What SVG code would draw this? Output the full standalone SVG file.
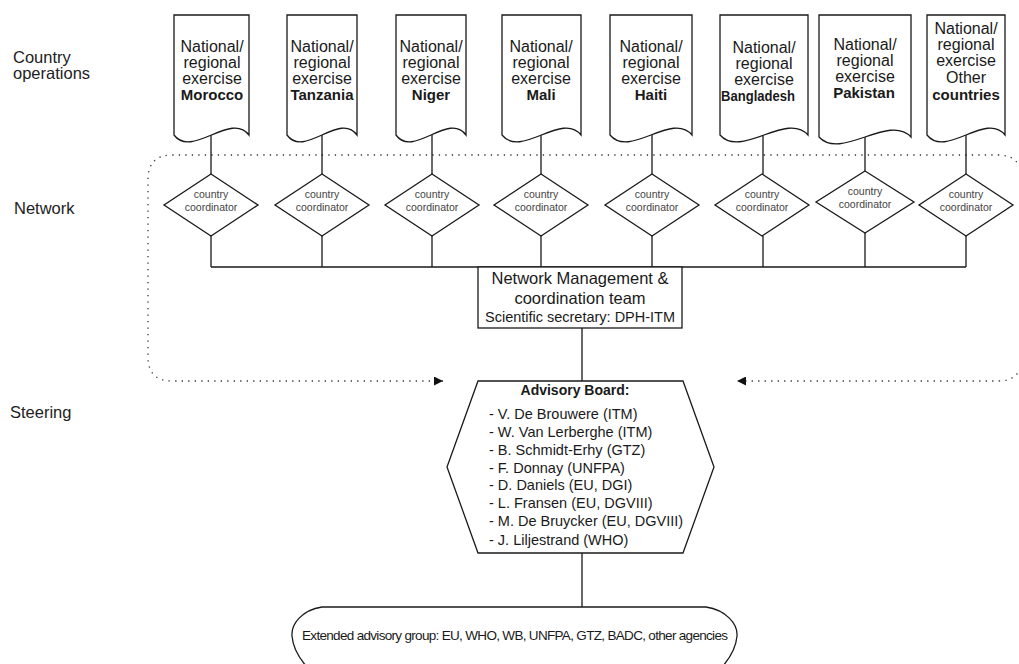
<svg xmlns="http://www.w3.org/2000/svg" width="1019" height="664" viewBox="0 0 1019 664">
<defs>
<style>
text{font-family:"Liberation Sans",Arial,sans-serif;fill:#1a1a1a}
.lbl{font-size:16.5px;fill:#222}
.doc{fill:#fff;stroke:#1a1a1a;stroke-width:1.3}
.dt{font-size:16px;text-anchor:middle}
.db{font-size:15px;font-weight:bold;text-anchor:middle}
.dia{fill:#fff;stroke:#1a1a1a;stroke-width:1.3}
.ct{font-size:10.5px;text-anchor:middle;fill:#444}
.ln{stroke:#1a1a1a;stroke-width:1.3;fill:none}
.dot{stroke:#333;stroke-width:1.3;fill:none;stroke-dasharray:1.3 5.2}
.box{fill:#fff;stroke:#1a1a1a;stroke-width:1.3}
.hx{font-size:14.5px}
</style>
<marker id="arr" viewBox="0 0 10 10" refX="10" refY="5" markerWidth="9" markerHeight="9" markerUnits="userSpaceOnUse" orient="auto-start-reverse">
<path d="M0,0 L10,5 L0,10 z" fill="#111"/>
</marker>
</defs>
<rect width="1019" height="664" fill="#fff"/>

<g id="labels">
<text class="lbl" x="13" y="63">Country</text>
<text class="lbl" x="13" y="79">operations</text>
<text class="lbl" x="14" y="214">Network</text>
<text class="lbl" x="10" y="418">Steering</text>
</g>

<g id="connectors">
<path class="dot" d="M443,381 H172 Q148,381 148,357 V180 Q148,155 172,155 H998 Q1022,155 1022,180 V357 Q1022,381 998,381 H737" marker-start="url(#arr)" marker-end="url(#arr)"/>
<path class="ln" d="M211,135 V174 M322,135 V174 M432,135 V174 M541,135 V174 M652,135 V174 M763,135 V174 M865,135 V171 M966,135 V174"/>
<path class="ln" d="M211,236 V267 M322,236 V267 M432,236 V267 M541,236 V267 M652,236 V267 M763,236 V267 M865,233 V267 M966,236 V267 M211,267 H966"/>
<path class="ln" d="M582,328 V381 M582,553 V607"/>
</g>

<g id="doc-morocco">
<path class="doc" d="M174,15 H249 V135 C231,111 192,159 174,135 Z"/>
<text class="dt" x="212" y="52">National/</text><text class="dt" x="212" y="68">regional</text><text class="dt" x="212" y="84">exercise</text><text class="db" x="212" y="100">Morocco</text>
</g>
<g id="doc-tanzania">
<path class="doc" d="M287,15 H357 V135 C340,111 304,159 287,135 Z"/>
<text class="dt" x="322" y="52">National/</text><text class="dt" x="322" y="68">regional</text><text class="dt" x="322" y="84">exercise</text><text class="db" x="322" y="100">Tanzania</text>
</g>
<g id="doc-niger">
<path class="doc" d="M396,15 H466 V135 C449,111 413,159 396,135 Z"/>
<text class="dt" x="431" y="52">National/</text><text class="dt" x="431" y="68">regional</text><text class="dt" x="431" y="84">exercise</text><text class="db" x="431" y="100">Niger</text>
</g>
<g id="doc-mali">
<path class="doc" d="M502,15 H581 V135 C562,111 521,159 502,135 Z"/>
<text class="dt" x="541" y="52">National/</text><text class="dt" x="541" y="68">regional</text><text class="dt" x="541" y="84">exercise</text><text class="db" x="541" y="100">Mali</text>
</g>
<g id="doc-haiti">
<path class="doc" d="M610,15 H692 V135 C672,111 630,159 610,135 Z"/>
<text class="dt" x="651" y="52">National/</text><text class="dt" x="651" y="68">regional</text><text class="dt" x="651" y="84">exercise</text><text class="db" x="651" y="100">Haiti</text>
</g>
<g id="doc-bangladesh">
<path class="doc" d="M720,15 H808 V135 C787,111 741,159 720,135 Z"/>
<text class="dt" x="764" y="53">National/</text><text class="dt" x="764" y="69">regional</text><text class="dt" x="764" y="85">exercise</text><text class="db" x="758" y="101" textLength="74" lengthAdjust="spacingAndGlyphs">Bangladesh</text>
</g>
<g id="doc-pakistan">
<path class="doc" d="M819,15 H911 V137 C889,113 841,161 819,137 Z"/>
<text class="dt" x="865" y="50">National/</text><text class="dt" x="865" y="66">regional</text><text class="dt" x="865" y="82">exercise</text><text class="db" x="864" y="98">Pakistan</text>
</g>
<g id="doc-other">
<path class="doc" d="M927,15 H1005 V135 C986,111 946,159 927,135 Z"/>
<text class="dt" x="966" y="34">National/</text><text class="dt" x="966" y="50">regional</text><text class="dt" x="966" y="66">exercise</text><text class="dt" x="966" y="83">Other</text><text class="db" x="966" y="100">countries</text>
</g>

<g id="cc-1"><path class="dia" d="M211,174 L258,205 L211,236 L164,205 Z"/><text class="ct" x="211" y="198">country</text><text class="ct" x="211" y="211">coordinator</text></g>
<g id="cc-2"><path class="dia" d="M322,174 L369,205 L322,236 L275,205 Z"/><text class="ct" x="322" y="198">country</text><text class="ct" x="322" y="211">coordinator</text></g>
<g id="cc-3"><path class="dia" d="M432,174 L479,205 L432,236 L385,205 Z"/><text class="ct" x="432" y="198">country</text><text class="ct" x="432" y="211">coordinator</text></g>
<g id="cc-4"><path class="dia" d="M541,174 L588,205 L541,236 L494,205 Z"/><text class="ct" x="541" y="198">country</text><text class="ct" x="541" y="211">coordinator</text></g>
<g id="cc-5"><path class="dia" d="M652,174 L699,205 L652,236 L605,205 Z"/><text class="ct" x="652" y="198">country</text><text class="ct" x="652" y="211">coordinator</text></g>
<g id="cc-6"><path class="dia" d="M762,174 L809,205 L762,236 L715,205 Z"/><text class="ct" x="762" y="198">country</text><text class="ct" x="762" y="211">coordinator</text></g>
<g id="cc-7"><path class="dia" d="M865,171 L914,202 L865,233 L816,202 Z"/><text class="ct" x="865" y="195">country</text><text class="ct" x="865" y="208">coordinator</text></g>
<g id="cc-8"><path class="dia" d="M966,174 L1013,205 L966,236 L919,205 Z"/><text class="ct" x="966" y="198">country</text><text class="ct" x="966" y="211">coordinator</text></g>

<g id="network-management">
<rect class="box" x="478" y="267" width="204" height="61"/>
<text x="580" y="284" font-size="16.5" text-anchor="middle">Network Management &amp;</text>
<text x="580" y="304" font-size="16.5" text-anchor="middle">coordination team</text>
<text x="580" y="322" font-size="14" text-anchor="middle" textLength="190" lengthAdjust="spacingAndGlyphs">Scientific secretary: DPH-ITM</text>
</g>

<g id="advisory-board">
<path class="box" d="M478,381 H683 L714,467 L683,553 H478 L447,467 Z"/>
<text x="575" y="395" font-size="14" font-weight="bold" text-anchor="middle">Advisory Board:</text>
<text class="hx" x="489" y="419">- V. De Brouwere (ITM)</text>
<text class="hx" x="489" y="437">- W. Van Lerberghe (ITM)</text>
<text class="hx" x="489" y="455">- B. Schmidt-Erhy (GTZ)</text>
<text class="hx" x="489" y="473">- F. Donnay (UNFPA)</text>
<text class="hx" x="489" y="490">- D. Daniels (EU, DGI)</text>
<text class="hx" x="489" y="508">- L. Fransen (EU, DGVIII)</text>
<text class="hx" x="489" y="526">- M. De Bruycker (EU, DGVIII)</text>
<text class="hx" x="489" y="545">- J. Liljestrand (WHO)</text>
</g>

<g id="extended-group">
<path class="box" d="M322,607 H706 C726,610 738,624 737,636 C736,648 730,658 722,667 H307 C299,658 293,648 292,636 C291,624 302,610 322,607 Z"/>
<text x="302" y="640" font-size="13.5" textLength="426" lengthAdjust="spacing">Extended advisory group: EU, WHO, WB, UNFPA, GTZ, BADC, other agencies</text>
</g>
</svg>
